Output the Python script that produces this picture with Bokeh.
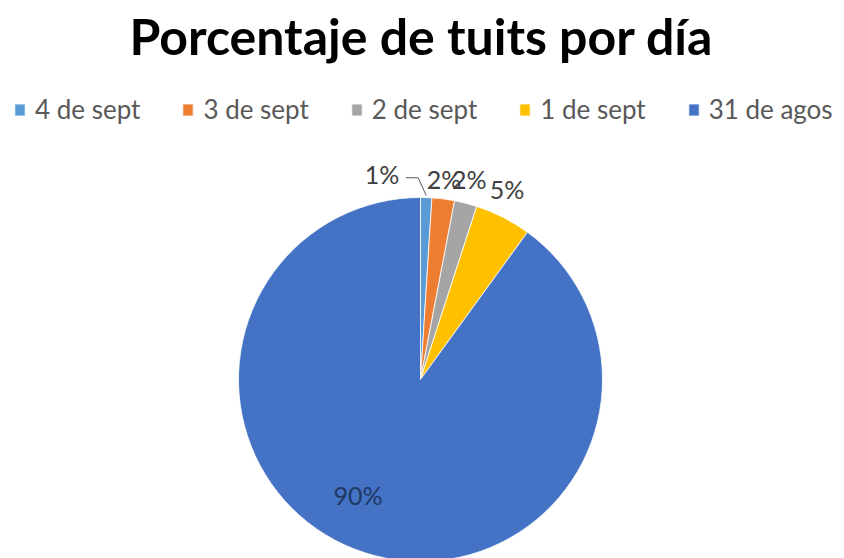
import numpy as np
from bokeh.plotting import figure
from bokeh.models import Range1d, Legend, LegendItem
from bokeh.core.properties import value
from bokeh.embed import file_html
from bokeh.resources import INLINE

# ---- data ----
categories = ["4 de sept", "3 de sept", "2 de sept", "1 de sept", "31 de agos"]
percentages = [1, 2, 2, 5, 90]
colors = ["#5B9BD5", "#ED7D31", "#A5A5A5", "#FFC000", "#4472C4"]
title_text = "Porcentaje de tuits por día"

# ---- layout ----
W, H = 844, 558
cx, cy, R = 420, H - 379, 182
FONT = "Lato"

vals = np.array(percentages, dtype=float)
frac = vals / vals.sum()
ends = np.cumsum(frac)
starts = ends - frac
start_angle = np.pi / 2 - starts * 2 * np.pi
end_angle = np.pi / 2 - ends * 2 * np.pi
mid = (start_angle + end_angle) / 2

p = figure(width=W, height=H, x_range=Range1d(0, W), y_range=Range1d(0, H),
           output_backend="svg", toolbar_location=None, min_border=0)
p.axis.visible = False
p.grid.visible = False
p.outline_line_color = None
p.background_fill_color = "white"
p.border_fill_color = "white"

renderers = []
for i in range(len(categories)):
    r = p.wedge(x=cx, y=cy, radius=R, start_angle=start_angle[i], end_angle=end_angle[i],
                direction="clock", fill_color=colors[i], line_color="white", line_width=0.8)
    renderers.append(r)

# percentage labels
label_x, label_y, label_txt = [], [], []
inside_x, inside_y, inside_txt = [], [], []
shift_x = [-45, -2, -2, -6, -22]
shift_y = [2, -2, 3, 9, 9]
for i, f in enumerate(frac):
    txt = f"{percentages[i]:.0f}%"
    if f < 0.5:
        rr = 1.12 * R
        label_x.append(cx + rr * np.cos(mid[i]) + shift_x[i])
        label_y.append(cy + rr * np.sin(mid[i]) + shift_y[i])
        label_txt.append(txt)
    else:
        rr = 0.72 * R
        inside_x.append(cx + rr * np.cos(mid[i]) + shift_x[i])
        inside_y.append(cy + rr * np.sin(mid[i]) + shift_y[i])
        inside_txt.append(txt)

p.text(x=label_x, y=label_y, text=label_txt, text_align="center", text_baseline="middle",
       text_font=value(FONT), text_font_size="25px", text_color="#404040")
p.text(x=inside_x, y=inside_y, text=inside_txt, text_align="center", text_baseline="middle",
       text_font=value(FONT), text_font_size="25px", text_color="#1F3864")

# leader line for shifted label
ex = cx + R * np.cos(mid[0])
ey = cy + R * np.sin(mid[0])
lx = label_x[0] + 24
ly = label_y[0] - 4
p.line(x=[lx, ex - 8, ex], y=[ly, ly, ey + 2], line_color="#595959", line_width=1)

# title
p.text(x=[W / 2 - 1], y=[H - 35], text=[title_text], text_align="center", text_baseline="middle",
       text_font=value(FONT), text_font_style="bold", text_font_size="50px", text_color="#000000")

legend = Legend(items=[LegendItem(label=categories[i], renderers=[renderers[i]]) for i in range(len(categories))],
                orientation="horizontal", location=(13, 433), spacing=41,
                glyph_width=13, glyph_height=15, label_standoff=9, padding=0, margin=0,
                border_line_color=None, background_fill_alpha=0,
                label_text_font=FONT, label_text_font_size="26px", label_text_color="#595959")
p.add_layout(legend)

open("out.html", "w").write(file_html(p, INLINE))
